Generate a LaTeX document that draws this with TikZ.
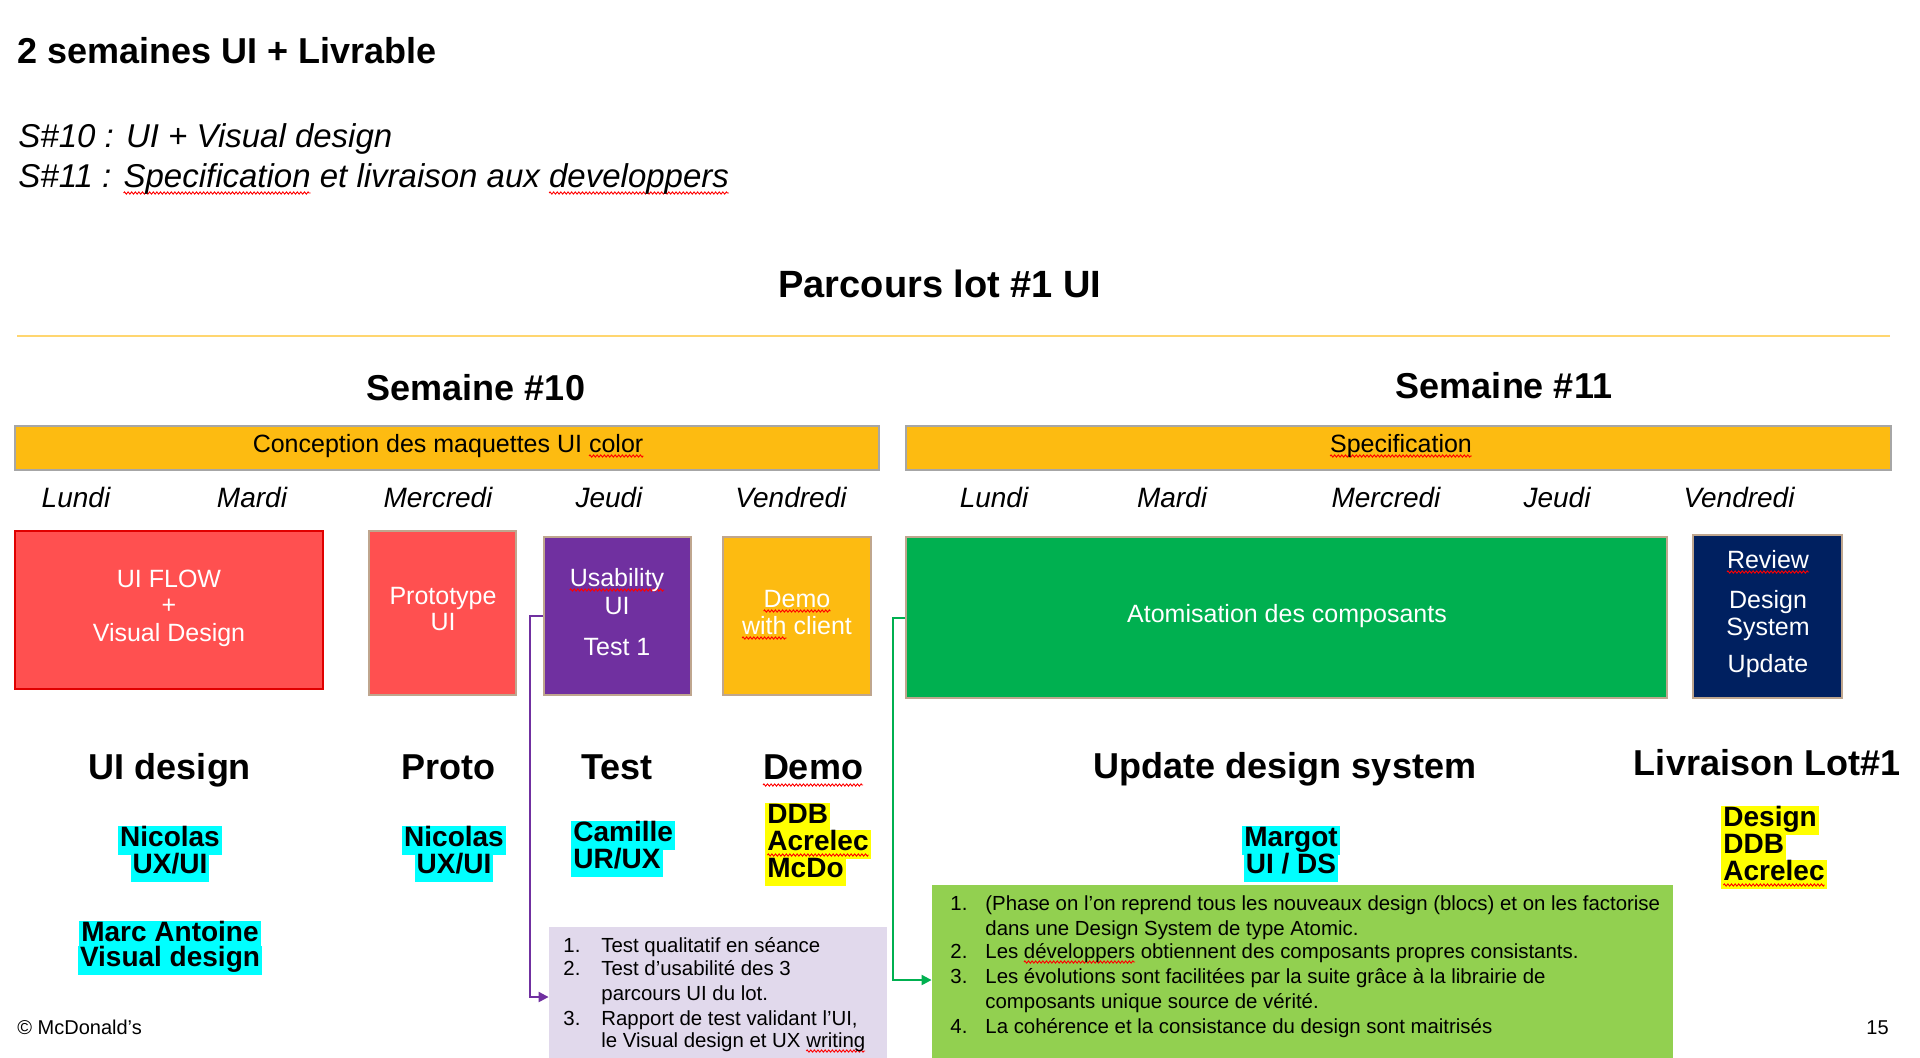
\documentclass[tikz,border=0pt]{standalone}
\usepackage{fontspec}
\setmainfont{Liberation Sans}
\usetikzlibrary{arrows.meta,fit,decorations.pathmorphing}
\newsavebox\splbox
\newlength\splw
\newcommand\spl[2][2.5pt]{\sbox\splbox{#2}\setlength\splw{\wd\splbox}\rlap{\tikz[baseline=0pt,x=1pt,y=1pt]{\useasboundingbox (0,0); \draw[red,line width=0.45pt,decorate,decoration={zigzag,amplitude=0.55pt,segment length=1.8pt}] (0,-#1) -- (\splw,-#1);}}\usebox\splbox}
\newcommand\fz[1]{\fontsize{#1}{#1}\selectfont}
\definecolor{mcred}{HTML}{FF5050}
\definecolor{mcredb}{HTML}{E00000}
\definecolor{bordertan}{HTML}{BFA68E}
\definecolor{mcyel}{HTML}{FDBB11}
\definecolor{bargray}{HTML}{A6A6A6}
\definecolor{mcpurp}{HTML}{7030A0}
\definecolor{mcgreen}{HTML}{00B050}
\definecolor{mcnavy}{HTML}{002060}
\definecolor{lgreen}{HTML}{92D050}
\definecolor{lav}{HTML}{E1D9EC}
\definecolor{rulecol}{HTML}{FFD670}
\definecolor{hcyan}{HTML}{00FFFF}
\definecolor{hyel}{HTML}{FFFF00}
\begin{document}
\begin{tikzpicture}[x=0.5pt,y=-0.5pt,
  lbl/.style={anchor=base, inner sep=0},
  head/.style={lbl, font=\fz{18pt}\bfseries},
  day/.style={lbl, font=\fz{14pt}\itshape},
  bar/.style={draw=bargray, line width=1pt, fill=mcyel, inner sep=0},
  boxx/.style={draw=bordertan, line width=1pt, inner sep=0},
  btxt/.style={lbl, text=white, font=\fz{12.5pt}},
  hl/.style={anchor=base, inner xsep=1pt, inner ysep=0.5pt, text height=9.5pt, text depth=4pt, font=\fz{14pt}\bfseries},
  lst/.style={anchor=base west, inner sep=0, font=\fz{10.2pt}},
  conn/.style={line width=1pt, -{Triangle[length=5pt,width=5pt]}}]
\useasboundingbox (0,0) rectangle (1920,1057);
\clip (0,0) rectangle (1920,1057);
\fill[white] (0,0) rectangle (1920,1057);

% titles
\node[lbl, anchor=base west, font=\fz{18pt}\bfseries] (title) at (17,63) {2 semaines UI + Livrable};
\node[lbl, anchor=base west, font=\fz{16.5pt}\itshape] (s10) at (18,147) {S\#10 : UI + Visual design};
\node[lbl, anchor=base west, font=\fz{16.5pt}\itshape] (s11) at (18,187) {S\#11 : \spl[3pt]{Specification} et livraison aux \spl[3pt]{developpers}};
\node[lbl, font=\fz{19pt}\bfseries] (parcours) at (940,297) {Parcours lot \#1 UI};
\coordinate (rl) at (17,336);
\coordinate (rr) at (1890,336);
\draw[rulecol, line width=1pt] (rl) -- (rr);
\node[head] (w10) at (476,400) {Semaine \#10};
\node[head] (w11) at (1504,398) {Semaine \#11};

% bars
\node[bar, fit={(15,426)(879,470)}] (bar1) {};
\node[lbl, font=\fz{12.5pt}] (bar1t) at (448,452) {Conception des maquettes UI \spl[2pt]{color}};
\node[bar, fit={(906,426)(1891,470)}] (bar2) {};
\node[lbl, font=\fz{12.5pt}] (bar2t) at (1401,452) {\spl[2pt]{Specification}};

% days
\foreach \x/\d [count=\i] in {76/Lundi,252/Mardi,438/Mercredi,609/Jeudi,791/Vendredi,994/Lundi,1172/Mardi,1386/Mercredi,1557/Jeudi,1739/Vendredi}
  \node[day] (day\i) at (\x,507) {\d};

% boxes
\node[boxx, draw=mcredb, fill=mcred, fit={(15,531)(323,689)}] (uiflow) {};
\node[btxt] (uif1) at (169,587) {UI FLOW};
\node[btxt] (uif2) at (169,613) {+};
\node[btxt] (uif3) at (169,641) {Visual Design};

\node[boxx, fill=mcred, fit={(369,531)(516,695)}] (proto) {};
\node[btxt] (pro1) at (443,604) {Prototype};
\node[btxt] (pro2) at (443,630) {UI};

\node[boxx, fill=mcpurp, fit={(544,537)(691,695)}] (usab) {};
\node[btxt] (us1) at (617,586) {\spl[2pt]{Usability}};
\node[btxt] (us2) at (617,614) {UI};
\node[btxt] (us3) at (617,655) {Test 1};

\node[boxx, fill=mcyel, fit={(723,537)(871,695)}] (demo) {};
\node[btxt] (de1) at (797,607) {\spl[2pt]{Demo}};
\node[btxt] (de2) at (797,634) {\spl[2pt]{with} client};

\node[boxx, fill=mcgreen, fit={(906,537)(1667,698)}] (atom) {};
\node[btxt] (at1) at (1287,622) {Atomisation des composants};

\node[boxx, fill=mcnavy, fit={(1693,535)(1842,698)}] (review) {};
\node[btxt] (rv1) at (1768,568) {\spl[2pt]{Review}};
\node[btxt] (rv2) at (1768,608) {Design};
\node[btxt] (rv3) at (1768,635) {System};
\node[btxt] (rv4) at (1768,672) {Update};

% phase labels
\node[head] (lab1) at (170,779) {UI design};
\node[head] (lab2) at (448,779) {Proto};
\node[head] (lab3) at (617,779) {Test};
\node[head] (lab4) at (813,779) {\spl[3pt]{Demo}};
\node[head] (lab5) at (1285,778) {Update design system};
\node[head] (lab6) at (1767,775) {Livraison Lot\#1};

% people
\node[hl, fill=hcyan] (n1a) at (170,846) {Nicolas};
\node[hl, fill=hcyan] (n1b) at (170,873) {UX/UI};
\node[hl, fill=hcyan] (m1a) at (170,941) {Marc Antoine};
\node[hl, fill=hcyan] (m1b) at (170,966) {Visual design};
\node[hl, fill=hcyan] (n2a) at (454,846) {Nicolas};
\node[hl, fill=hcyan] (n2b) at (454,873) {UX/UI};
\node[hl, fill=hcyan, anchor=base west] (c1a) at (571,841) {Camille};
\node[hl, fill=hcyan, anchor=base west] (c1b) at (571,868) {UR/UX};
\node[hl, fill=hyel, anchor=base west] (d1a) at (765,823) {DDB};
\node[hl, fill=hyel, anchor=base west] (d1b) at (765,850) {\spl[2.5pt]{Acrelec}};
\node[hl, fill=hyel, anchor=base west] (d1c) at (765,877) {McDo};
\node[hl, fill=hcyan] (g1a) at (1291,846) {Margot};
\node[hl, fill=hcyan] (g1b) at (1291,873) {UI / DS};
\node[hl, fill=hyel, anchor=base west] (l1a) at (1721,826) {Design};
\node[hl, fill=hyel, anchor=base west] (l1b) at (1721,853) {DDB};
\node[hl, fill=hyel, anchor=base west] (l1c) at (1721,880) {\spl[2.5pt]{Acrelec}};

% lavender list
\node[fill=lav, inner sep=0, fit={(549,927)(887,1067)}] (lavbox) {};
\node[lst] (t1n) at (563,952) {1.};
\node[lst] (t1) at (601,952) {Test qualitatif en séance};
\node[lst] (t2n) at (563,975) {2.};
\node[lst] (t2) at (601,975) {Test d’usabilité des 3};
\node[lst] (t2b) at (601,1000) {parcours UI du lot.};
\node[lst] (t3n) at (563,1025) {3.};
\node[lst] (t3) at (601,1025) {Rapport de test validant l’UI,};
\node[lst] (t3b) at (601,1047) {le Visual design et UX \spl[2pt]{writing}};

% green list
\node[fill=lgreen, inner sep=0, fit={(932,885)(1673,1075)}] (gbox) {};
\node[lst] (g1n) at (950,910) {1.};
\node[lst] (g1) at (985,910) {(Phase on l’on reprend tous les nouveaux design (blocs) et on les factorise};
\node[lst] (g1b) at (985,935) {dans une Design System de type Atomic.};
\node[lst] (g2n) at (950,958) {2.};
\node[lst] (g2) at (985,958) {Les \spl[2pt]{développers} obtiennent des composants propres consistants.};
\node[lst] (g3n) at (950,983) {3.};
\node[lst] (g3) at (985,983) {Les évolutions sont facilitées par la suite grâce à la librairie de};
\node[lst] (g3b) at (985,1008) {composants unique source de vérité.};
\node[lst] (g4n) at (950,1033) {4.};
\node[lst] (g4) at (985,1033) {La cohérence et la consistance du design sont maitrisés};

% connectors
\draw[conn, mcpurp] (usab.west) -- ++(-13,0) |- (lavbox.west);
\draw[conn, mcgreen] (atom.west) -- ++(-12,0) |- (gbox.west);

% footer
\node[lbl, anchor=base west, font=\fz{10pt}] (copy) at (17,1034) {© McDonald’s};
\node[lbl, anchor=base east, font=\fz{10pt}] (page) at (1889,1034) {15};
\end{tikzpicture}
\end{document}
